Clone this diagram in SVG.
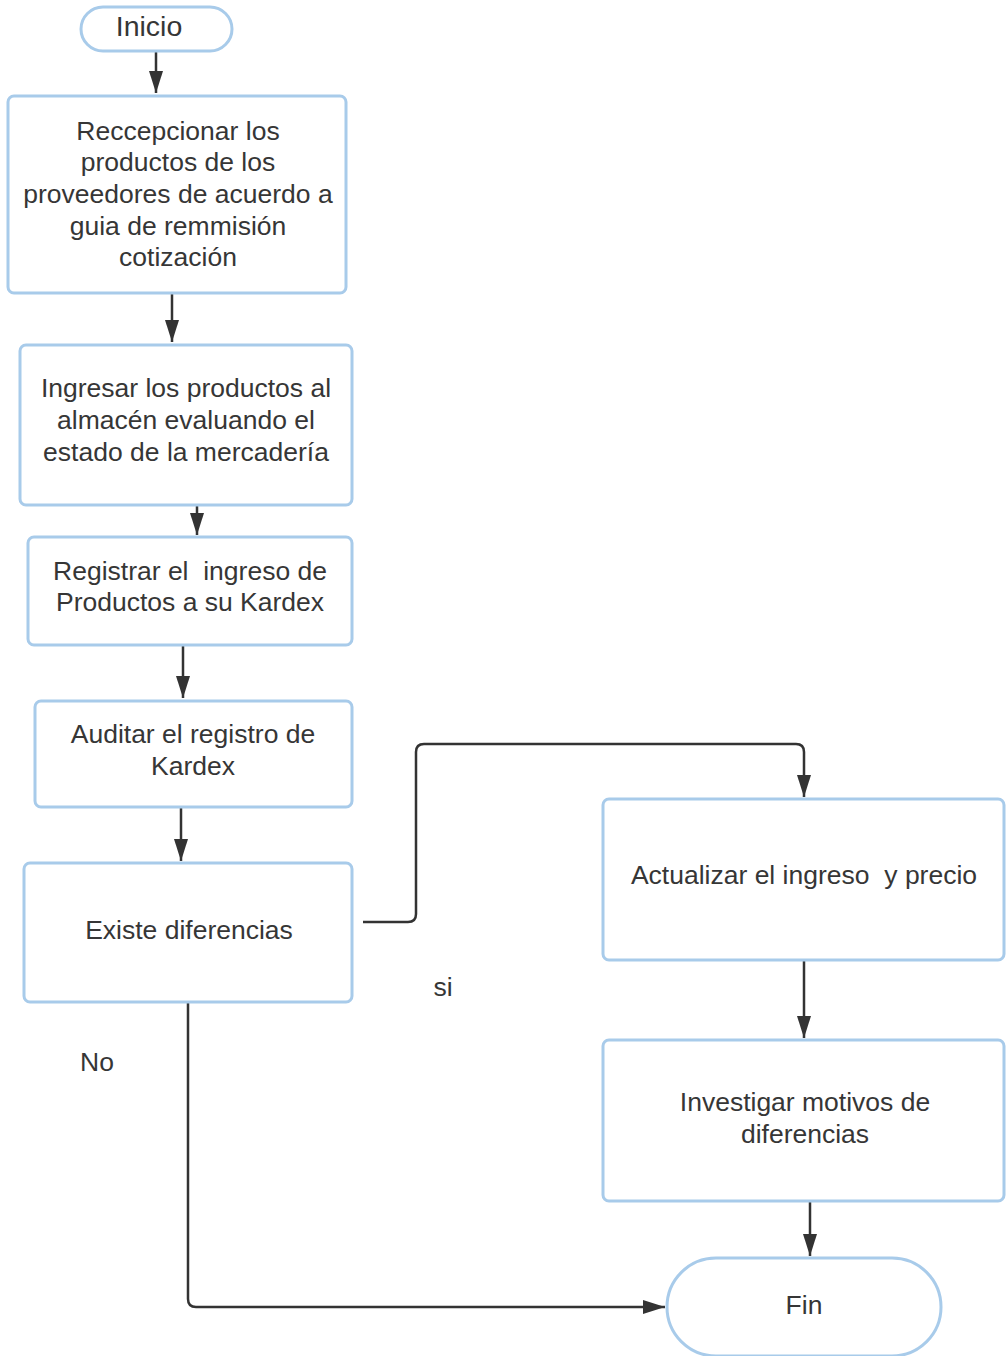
<svg xmlns="http://www.w3.org/2000/svg" width="1008" height="1356" viewBox="0 0 1008 1356">
<style>
.box{fill:#ffffff;stroke:#a8cbea;stroke-width:3}
.t{font-family:"Liberation Sans",Arial,sans-serif;font-size:26.5px;fill:#363636;text-anchor:middle;white-space:pre}
.c{fill:none;stroke:#333333;stroke-width:2.5}
</style>
<defs>
<marker id="ah" viewBox="0 0 22 14" refX="22" refY="7" markerWidth="22" markerHeight="14" markerUnits="userSpaceOnUse" orient="auto">
<path d="M0,0 L22,7 L0,14 z" fill="#333333"/>
</marker>
</defs>
<rect width="1008" height="1356" fill="#ffffff"/>
<g id="connectors">
<path class="c" d="M156,51 L156,93" marker-end="url(#ah)"/>
<path class="c" d="M172,293 L172,342" marker-end="url(#ah)"/>
<path class="c" d="M197,500 L197,535" marker-end="url(#ah)"/>
<path class="c" d="M183,645 L183,698" marker-end="url(#ah)"/>
<path class="c" d="M181,807 L181,861" marker-end="url(#ah)"/>
<path class="c" d="M363,922 L408,922 Q416,922 416,914 L416,752 Q416,744 424,744 L796,744 Q804,744 804,752 L804,797" marker-end="url(#ah)"/>
<path class="c" d="M804,960 L804,1038" marker-end="url(#ah)"/>
<path class="c" d="M810,1201 L810,1256" marker-end="url(#ah)"/>
<path class="c" d="M188,1002 L188,1299 Q188,1307 196,1307 L665,1307" marker-end="url(#ah)"/>
</g>
<g id="inicio">
<rect class="box" x="81" y="7" width="151" height="44" rx="22"/>
<text class="t" x="149" y="36" style="font-size:28.5px">Inicio</text>
</g>
<g id="recepcionar">
<rect class="box" x="8" y="96" width="338" height="197" rx="6"/>
<text class="t" x="178" y="140">Reccepcionar los</text>
<text class="t" x="178" y="171">productos de los</text>
<text class="t" x="178" y="203">proveedores de acuerdo a</text>
<text class="t" x="178" y="235">guia de remmisión</text>
<text class="t" x="178" y="266">cotización</text>
</g>
<g id="ingresar">
<rect class="box" x="20" y="345" width="332" height="160" rx="6"/>
<text class="t" x="186" y="397">Ingresar los productos al</text>
<text class="t" x="186" y="429">almacén evaluando el</text>
<text class="t" x="186" y="461">estado de la mercadería</text>
</g>
<g id="registrar">
<rect class="box" x="28" y="537" width="324" height="108" rx="6"/>
<text class="t" x="190" y="580">Registrar el  ingreso de</text>
<text class="t" x="190" y="611">Productos a su Kardex</text>
</g>
<g id="auditar">
<rect class="box" x="35" y="701" width="317" height="106" rx="6"/>
<text class="t" x="193" y="743">Auditar el registro de</text>
<text class="t" x="193" y="775">Kardex</text>
</g>
<g id="existe">
<rect class="box" x="24" y="863" width="328" height="139" rx="6"/>
<text class="t" x="189" y="939">Existe diferencias</text>
</g>
<g id="actualizar">
<rect class="box" x="603" y="799" width="401" height="161" rx="6"/>
<text class="t" x="804" y="884">Actualizar el ingreso  y precio</text>
</g>
<g id="investigar">
<rect class="box" x="603" y="1040" width="401" height="161" rx="6"/>
<text class="t" x="805" y="1111">Investigar motivos de</text>
<text class="t" x="805" y="1143">diferencias</text>
</g>
<g id="fin">
<rect class="box" x="667" y="1258" width="274" height="98" rx="49"/>
<text class="t" x="804" y="1314">Fin</text>
</g>
<g id="labels">
<text class="t" x="443" y="996">si</text>
<text class="t" x="97" y="1071">No</text>
</g>
</svg>
